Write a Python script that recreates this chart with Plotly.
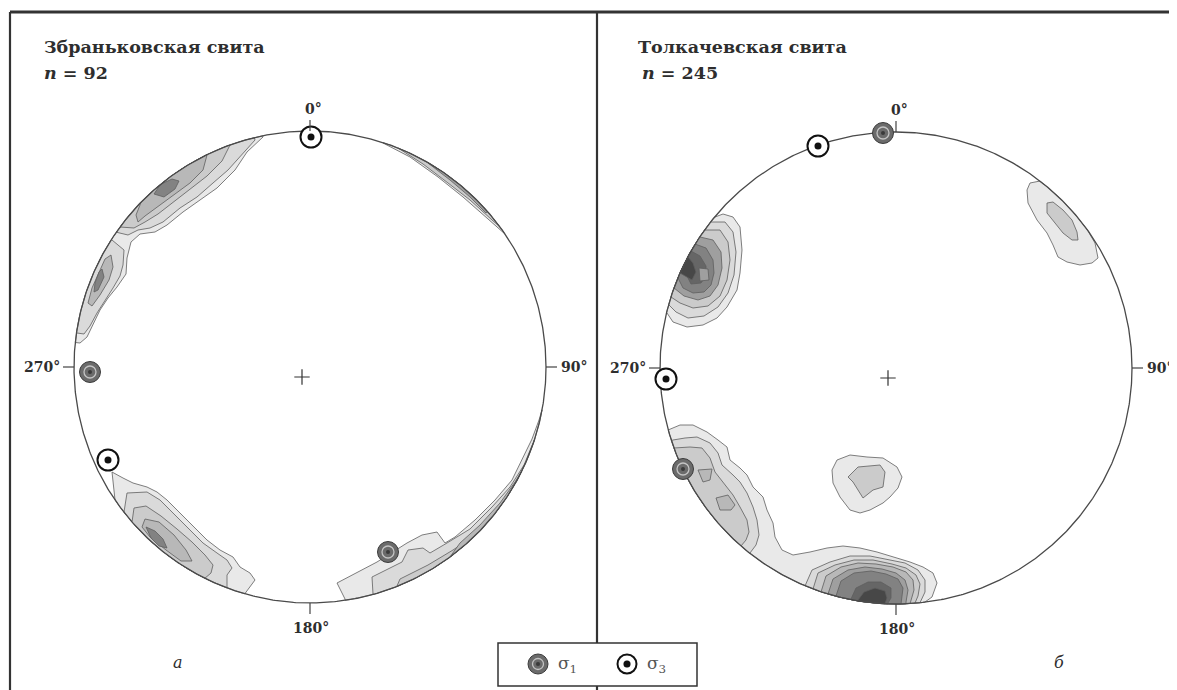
import numpy as np
import plotly.graph_objects as go

# ---------------- data (net units: centre 0,0, primitive radius R) ----------------
R_A = 236.0   # primitive circle radius, panel а
R_B = 236.0   # primitive circle radius, panel б

TITLE_A = "Збраньковская свита"
TITLE_B = "Толкачевская свита"
N_A = 92
N_B = 245
AZ_LABELS = ["0°", "90°", "180°", "270°"]
PANEL_LETTERS = ["а", "б"]

# principal stress axes (projected positions)
SIGMA1_A = [(-220, -5), (78, -185)]
SIGMA3_A = [(1, 230), (-202, -93)]
SIGMA1_B = [(-13, 235), (-213, -101)]
SIGMA3_B = [(-78, 222), (-230, -11)]

# ---- panel а : density contour polygons ----
a_nw_1 = [(-47, 230), (-63, 215), (-75, 197), (-93, 179), (-110, 167), (-127, 155), (-143, 142), (-155, 135),
          (-170, 133), (-179, 125), (-183, 109), (-184, 93), (-193, 80), (-202, 69), (-210, 57), (-217, 42),
          (-223, 30), (-230, 24)]
a_nw_2u = [(-55, 227), (-70, 210), (-82, 197), (-97, 184), (-113, 170), (-130, 159), (-147, 145), (-160, 139),
           (-172, 137), (-182, 132), (-194, 135)]
a_nw_2l = [(-198, 127), (-186, 117), (-187, 102), (-190, 91), (-197, 79), (-205, 67), (-213, 54), (-220, 41),
           (-226, 33)]
a_nw_25u = [(-80, 222), (-88, 206), (-103, 191), (-120, 178), (-137, 165), (-152, 153), (-165, 145), (-176, 139),
            (-190, 140)]
a_nw_3u = [(-103, 212), (-107, 197), (-120, 184), (-138, 171), (-153, 160), (-165, 151), (-172, 145),
           (-174, 152), (-169, 165)]
a_nw_3l = [(-199, 112), (-197, 100), (-201, 87), (-210, 72), (-218, 61), (-222, 64), (-218, 79), (-211, 95),
           (-205, 108)]
a_nw_4u = [(-156, 173), (-150, 183), (-138, 188), (-131, 186), (-135, 178), (-146, 170)]
a_nw_4l = [(-208, 98), (-206, 90), (-212, 77), (-216, 75), (-215, 84), (-211, 95)]

a_ne_1 = [(73, 224), (100, 210), (128, 190), (153, 170), (178, 148), (195, 133)]
a_ne_2 = [(88, 219), (113, 203), (138, 184), (160, 167), (182, 147), (190, 140)]
a_ne_3 = [(118, 204), (140, 187), (160, 170), (176, 154)]

a_sw_1 = [(-195, -133), (-198, -105), (-187, -111), (-177, -116), (-163, -120), (-153, -125), (-143, -133),
          (-130, -146), (-117, -160), (-103, -173), (-90, -183), (-77, -190), (-70, -200), (-60, -206),
          (-55, -213), (-60, -220), (-65, -226)]
a_sw_2 = [(-186, -145), (-183, -126), (-163, -125), (-150, -133), (-137, -146), (-120, -163), (-107, -176),
          (-93, -186), (-83, -193), (-78, -201), (-83, -208), (-83, -221)]
a_sw_3 = [(-178, -155), (-176, -141), (-164, -139), (-149, -149), (-133, -162), (-118, -175), (-105, -188),
          (-97, -198), (-99, -206), (-105, -211)]
a_sw_4 = [(-165, -152), (-151, -155), (-136, -168), (-124, -183), (-118, -194), (-129, -194), (-144, -183),
          (-160, -170), (-168, -160)]
a_sw_5 = [(-164, -160), (-155, -164), (-147, -172), (-143, -181), (-151, -179), (-159, -171)]

a_se_1 = [(35, -232), (27, -216), (67, -195), (97, -176), (112, -168), (127, -165), (135, -176), (145, -170),
          (165, -153), (185, -133), (202, -113), (212, -92), (222, -72), (229, -53), (233, -43)]
a_se_2 = [(63, -227), (62, -210), (92, -195), (98, -183), (113, -181), (120, -186), (137, -176), (160, -162),
          (182, -140), (200, -120), (214, -98), (225, -72)]
a_se_3 = [(87, -219), (90, -212), (118, -198), (130, -191), (143, -183), (158, -173)]
a_se_4 = [(140, -190), (150, -176), (170, -158), (190, -136), (205, -115), (212, -104)]

# ---- panel б : density contour polygons ----
b_nw_1 = [(-181, 151), (-173, 154), (-163, 151), (-156, 141), (-154, 118), (-156, 95), (-159, 78), (-169, 61),
          (-179, 50), (-193, 43), (-209, 41), (-223, 46), (-229, 55)]
b_nw_2 = [(-185, 146), (-171, 146), (-163, 136), (-160, 116), (-162, 93), (-168, 75), (-178, 61), (-192, 52),
          (-208, 50), (-220, 56), (-227, 63)]
b_nw_3 = [(-191, 138), (-176, 138), (-168, 126), (-166, 108), (-169, 88), (-176, 72), (-188, 62), (-203, 60),
          (-216, 65), (-225, 71)]
b_nw_4 = [(-196, 131), (-183, 128), (-175, 116), (-174, 100), (-178, 83), (-186, 72), (-198, 68), (-212, 72),
          (-222, 80)]
b_nw_5 = [(-201, 124), (-190, 120), (-183, 108), (-182, 95), (-185, 83), (-192, 76), (-203, 75), (-213, 80),
          (-218, 90)]
b_nw_6 = [(-205, 117), (-196, 112), (-190, 102), (-190, 92), (-195, 85), (-205, 84), (-213, 100)]
b_nw_7 = [(-208, 111), (-203, 105), (-200, 96), (-204, 88), (-216, 95)]
b_nw_core = [(-197, 100), (-188, 99), (-187, 88), (-196, 87)]

b_ne_1 = [(192, 139), (199, 125), (202, 110), (196, 105), (184, 103), (171, 106), (162, 111), (157, 123),
          (151, 135), (141, 148), (132, 165), (131, 178), (134, 185), (144, 187)]
b_ne_2 = [(151, 165), (157, 166), (167, 158), (176, 148), (181, 136), (182, 128), (176, 128), (167, 135),
          (159, 145), (151, 155)]

b_sw_1 = [(-228, -62), (-216, -57), (-203, -57), (-189, -64), (-178, -72), (-169, -79), (-166, -92),
          (-156, -100), (-149, -107), (-143, -119), (-133, -129), (-129, -142), (-123, -155), (-121, -169),
          (-114, -182), (-103, -187), (-86, -184), (-69, -180), (-53, -178), (-36, -180), (-19, -184),
          (-3, -189), (14, -194), (27, -199), (37, -205), (41, -215), (36, -229), (29, -234)]
b_sw_2 = [(-223, -72), (-211, -70), (-199, -69), (-186, -75), (-178, -85), (-174, -97), (-163, -107),
          (-156, -114), (-149, -125), (-143, -139), (-139, -152), (-137, -167), (-140, -177), (-146, -185)]
b_sw_3 = [(-222, -80), (-206, -79), (-194, -80), (-186, -90), (-181, -104), (-171, -117), (-163, -127),
          (-156, -139), (-149, -152), (-147, -164), (-150, -172), (-155, -178)]
b_sw_4a = [(-198, -102), (-184, -101), (-186, -112), (-193, -114)]
b_sw_4b = [(-180, -130), (-168, -127), (-161, -137), (-165, -142), (-176, -142)]

b_s_2 = [(-91, -218), (-84, -202), (-66, -194), (-46, -188), (-26, -188), (-6, -192), (9, -195), (22, -202),
         (29, -212), (29, -224), (24, -235)]
b_s_2b = [(-83, -221), (-78, -205), (-61, -197), (-42, -192), (-23, -192), (-4, -196), (10, -200), (20, -207),
          (24, -216), (22, -228), (19, -235)]
b_s_3 = [(-75, -224), (-70, -208), (-55, -199), (-38, -195), (-20, -196), (-3, -199), (10, -204), (17, -212),
         (18, -222), (14, -234)]
b_s_3b = [(-68, -226), (-63, -211), (-48, -202), (-31, -199), (-14, -201), (0, -205), (9, -212), (12, -222),
          (10, -234)]
b_s_4 = [(-60, -228), (-55, -213), (-42, -205), (-25, -203), (-10, -206), (2, -211), (7, -220), (6, -232),
         (5, -235)]
b_s_5 = [(-45, -231), (-40, -220), (-28, -214), (-15, -214), (-5, -220), (-5, -230), (-8, -235)]
b_s_6 = [(-38, -232), (-32, -224), (-21, -220), (-11, -223), (-9, -230), (-11, -235)]

b_c_1 = [(-64, -102), (-59, -92), (-46, -87), (-29, -89), (-13, -90), (1, -99), (6, -109), (2, -120), (-6, -129),
         (-13, -135), (-26, -142), (-36, -145), (-46, -142), (-56, -129), (-63, -115)]
b_c_2 = [(-48, -109), (-38, -99), (-16, -97), (-11, -104), (-13, -119), (-23, -122), (-33, -130), (-38, -122),
         (-43, -114)]

# (polygon, density level, closes along primitive circle)
CONTOURS_A = [
    (a_nw_1, 1, True), (a_nw_2u, 2, True), (a_nw_2l, 2, True), (a_nw_25u, 3, True), (a_nw_3u, 4, True),
    (a_nw_3l, 4, False), (a_nw_4u, 6, False), (a_nw_4l, 6, False),
    (a_ne_1, 1, True), (a_ne_2, 3, True), (a_ne_3, 5, True),
    (a_sw_1, 1, True), (a_sw_2, 2, True), (a_sw_3, 3, True), (a_sw_4, 4, False), (a_sw_5, 6, False),
    (a_se_1, 1, True), (a_se_2, 2, True), (a_se_3, 3, True), (a_se_4, 4, True),
]
CONTOURS_B = [
    (b_nw_1, 1, True), (b_nw_2, 2, True), (b_nw_3, 3, True), (b_nw_4, 5, True), (b_nw_5, 6, True),
    (b_nw_6, 7, True), (b_nw_7, 8, True), (b_nw_core, 5, False),
    (b_ne_1, 1, True), (b_ne_2, 3, False),
    (b_sw_1, 1, True), (b_sw_2, 2, True), (b_sw_3, 3, True), (b_sw_4a, 4, False), (b_sw_4b, 4, False),
    (b_s_2, 2, True), (b_s_2b, 3, True), (b_s_3, 4, True), (b_s_3b, 5, True), (b_s_4, 6, True),
    (b_s_5, 7, True), (b_s_6, 8, True),
    (b_c_1, 1, False), (b_c_2, 3, False),
]

# ---------------- layout / styles ----------------
LEVEL_FILL = {1: "#e9e9e9", 2: "#dadada", 3: "#cbcbcb", 4: "#b8b8b8", 5: "#9f9f9f", 6: "#828282",
              7: "#666666", 8: "#474747"}
LINE_CLR = "#5e5e5e"
TXT = "#2e2e2e"
FONT = "DejaVu Serif"
W, H = 1177, 690
OFF = 8                      # page offset of the plot (body margin)
CA = (310, 367)              # page position of net centre, panel а
CB = (896, 368)              # page position of net centre, panel б
DIV = 597                    # page x of the dividing line


def px(p):
    return (p - OFF) / W


def py(p):
    return 1 - (p - OFF) / H


def poly_xy(pts, R, edge):
    p = np.array(pts, dtype=float)
    r = np.hypot(p[:, 0], p[:, 1])
    k = np.minimum(1.0, R / np.maximum(r, 1e-9))
    p = p * k[:, None]
    if edge:
        a0 = np.arctan2(p[-1, 1], p[-1, 0])
        a1 = np.arctan2(p[0, 1], p[0, 0])
        d = (a1 - a0 + np.pi) % (2 * np.pi) - np.pi
        n = max(3, int(abs(d) / 0.01))
        t = a0 + d * np.linspace(0, 1, n)
        p = np.vstack([p, np.c_[R * np.cos(t), R * np.sin(t)]])
    p = np.vstack([p, p[:1]])
    return p[:, 0], p[:, 1]


fig = go.Figure()


def add_panel(contours, R, s1, s3, xa, ya):
    for pts, lev, edge in contours:
        x, y = poly_xy(pts, R, edge)
        fig.add_trace(go.Scatter(x=x, y=y, mode="lines", fill="toself", fillcolor=LEVEL_FILL[lev],
                                 line=dict(color=LINE_CLR, width=0.8), hoverinfo="skip",
                                 showlegend=False, xaxis=xa, yaxis=ya))
    t = np.linspace(0, 2 * np.pi, 721)
    fig.add_trace(go.Scatter(x=R * np.cos(t), y=R * np.sin(t), mode="lines",
                             line=dict(color="#4a4a4a", width=1.3), hoverinfo="skip",
                             showlegend=False, xaxis=xa, yaxis=ya))
    # centre mark
    fig.add_trace(go.Scatter(x=[-8], y=[-10], mode="markers",
                             marker=dict(symbol="cross-thin", size=11, line=dict(color="#333", width=1.2)),
                             hoverinfo="skip", showlegend=False, xaxis=xa, yaxis=ya))
    sx1, sy1 = [p[0] for p in s1], [p[1] for p in s1]
    sx3, sy3 = [p[0] for p in s3], [p[1] for p in s3]
    for size, col, lc, lw in [(21, "#6b6b6b", "#3c3c3c", 1.0), (12, "#6b6b6b", "#c4c4c4", 1.3),
                              (4, "#3a3a3a", "#3a3a3a", 0)]:
        fig.add_trace(go.Scatter(x=sx1, y=sy1, mode="markers",
                                 marker=dict(size=size, color=col, line=dict(color=lc, width=lw)),
                                 hoverinfo="skip", showlegend=False, xaxis=xa, yaxis=ya))
    for size, col, lc, lw in [(21, "white", "#111", 2.0), (7, "#111", "#111", 0)]:
        fig.add_trace(go.Scatter(x=sx3, y=sy3, mode="markers",
                                 marker=dict(size=size, color=col, line=dict(color=lc, width=lw)),
                                 hoverinfo="skip", showlegend=False, xaxis=xa, yaxis=ya))


add_panel(CONTOURS_A, R_A, SIGMA1_A, SIGMA3_A, "x", "y")
add_panel(CONTOURS_B, R_B, SIGMA1_B, SIGMA3_B, "x2", "y2")

shapes = []
annotations = []
TICK = 11
for R, xr, yr, letter_xy, letter in [(R_A, "x", "y", (-132, -295), PANEL_LETTERS[0]),
                                     (R_B, "x2", "y2", (163, -294), PANEL_LETTERS[1])]:
    line = dict(color="#444", width=1.2)
    shapes += [
        dict(type="line", xref=xr, yref=yr, x0=0, x1=0, y0=R, y1=R + TICK, line=line),
        dict(type="line", xref=xr, yref=yr, x0=R, x1=R + TICK, y0=0, y1=0, line=line),
        dict(type="line", xref=xr, yref=yr, x0=0, x1=0, y0=-R, y1=-R - TICK, line=line),
        dict(type="line", xref=xr, yref=yr, x0=-R, x1=-R - TICK, y0=0, y1=0, line=line),
    ]
    f = dict(family=FONT, size=14, color=TXT)
    annotations += [
        dict(xref=xr, yref=yr, x=3, y=R + TICK + 1, text="<b>%s</b>" % AZ_LABELS[0], showarrow=False, font=f,
             xanchor="center", yanchor="bottom"),
        dict(xref=xr, yref=yr, x=R + TICK + 2, y=0, text="<b>%s</b>" % AZ_LABELS[1], showarrow=False, font=f,
             xanchor="left", yanchor="middle"),
        dict(xref=xr, yref=yr, x=1, y=-R - TICK - 4, text="<b>%s</b>" % AZ_LABELS[2], showarrow=False, font=f,
             xanchor="center", yanchor="top"),
        dict(xref=xr, yref=yr, x=-R - TICK - 1, y=0, text="<b>%s</b>" % AZ_LABELS[3], showarrow=False, font=f,
             xanchor="right", yanchor="middle"),
        dict(xref=xr, yref=yr, x=letter_xy[0], y=letter_xy[1], text="<i>%s</i>" % letter, showarrow=False,
             font=dict(family=FONT, size=16, color=TXT), xanchor="center", yanchor="middle"),
    ]

ft = dict(family=FONT, size=17.5, color=TXT)
annotations += [
    dict(xref="paper", yref="paper", x=px(42), y=py(47), text="<b>%s</b>" % TITLE_A, showarrow=False,
         font=ft, xanchor="left", yanchor="middle"),
    dict(xref="paper", yref="paper", x=px(42), y=py(73), text="<b><i>n</i> = %d</b>" % N_A, showarrow=False,
         font=ft, xanchor="left", yanchor="middle"),
    dict(xref="paper", yref="paper", x=px(636), y=py(47), text="<b>%s</b>" % TITLE_B, showarrow=False,
         font=ft, xanchor="left", yanchor="middle"),
    dict(xref="paper", yref="paper", x=px(640), y=py(73), text="<b><i>n</i> = %d</b>" % N_B, showarrow=False,
         font=ft, xanchor="left", yanchor="middle"),
]

# frame
TOP = 12
shapes += [
    dict(type="line", xref="paper", yref="paper", x0=px(10), x1=1, y0=py(TOP), y1=py(TOP),
         line=dict(color="#333", width=3), layer="above"),
    dict(type="line", xref="paper", yref="paper", x0=px(10), x1=px(10), y0=0, y1=py(TOP),
         line=dict(color="#333", width=2.2), layer="above"),
    dict(type="line", xref="paper", yref="paper", x0=px(DIV), x1=px(DIV), y0=0, y1=py(TOP),
         line=dict(color="#333", width=2.2), layer="above"),
]
# legend box
shapes.append(dict(type="rect", xref="paper", yref="paper", x0=px(498), x1=px(697), y0=py(686), y1=py(643),
                   fillcolor="white", line=dict(color="#333", width=1.5), layer="above"))
LEG_Y = py(664)


def leg_circle(xa, d, fill, lc, lw):
    return dict(type="circle", xref="paper", yref="paper", xsizemode="pixel", ysizemode="pixel",
                xanchor=xa, yanchor=LEG_Y, x0=-d / 2, x1=d / 2, y0=-d / 2, y1=d / 2,
                fillcolor=fill, line=dict(color=lc, width=lw), layer="above")


S1X, S3X = px(538), px(627)
shapes += [leg_circle(S1X, 20, "#6b6b6b", "#3c3c3c", 1.0), leg_circle(S1X, 11, "#6b6b6b", "#c4c4c4", 1.3),
           leg_circle(S1X, 4, "#3a3a3a", "#3a3a3a", 0.1),
           leg_circle(S3X, 19, "white", "#111", 2.0), leg_circle(S3X, 7, "#111", "#111", 0.1)]
annotations += [
    dict(xref="paper", yref="paper", x=px(556), y=LEG_Y, text="σ<sub>1</sub>", showarrow=False,
         font=dict(family=FONT, size=17, color="#555"), xanchor="left", yanchor="middle"),
    dict(xref="paper", yref="paper", x=px(645), y=LEG_Y, text="σ<sub>3</sub>", showarrow=False,
         font=dict(family=FONT, size=17, color="#555"), xanchor="left", yanchor="middle"),
]

ax = dict(visible=False, showgrid=False, zeroline=False, fixedrange=True)
fig.update_layout(
    width=W, height=H, autosize=False, margin=dict(l=0, r=0, t=0, b=0),
    paper_bgcolor="white", plot_bgcolor="white", showlegend=False,
    xaxis=dict(domain=[0, px(DIV)], range=[OFF - CA[0], DIV - CA[0]], anchor="y", **ax),
    yaxis=dict(domain=[0, 1], range=[CA[1] - (OFF + H), CA[1] - OFF], anchor="x", **ax),
    xaxis2=dict(domain=[px(DIV), 1], range=[DIV - CB[0], OFF + W - CB[0]], anchor="y2", **ax),
    yaxis2=dict(domain=[0, 1], range=[CB[1] - (OFF + H), CB[1] - OFF], anchor="x2", **ax),
    shapes=shapes, annotations=annotations,
)
fig.write_html("out.html")
